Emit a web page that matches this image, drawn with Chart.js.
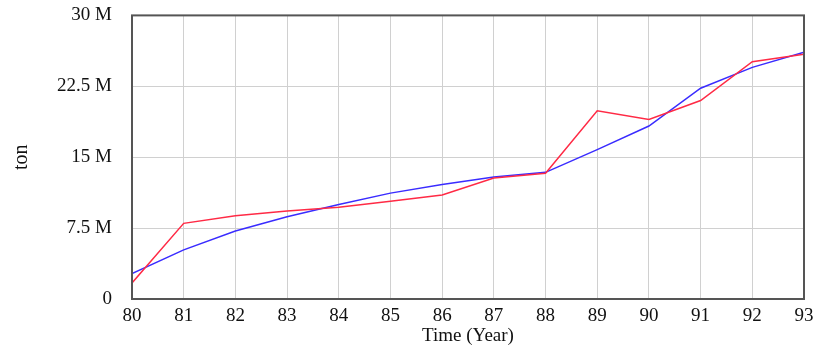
<!DOCTYPE html>
<html>
<head>
<meta charset="utf-8">
<script src="https://cdn.jsdelivr.net/npm/chart.js@4"></script>
<style>
  html, body { margin: 0; padding: 0; background: #fff; }
  #wrap { width: 816px; height: 345px; }
</style>
</head>
<body>
<div id="wrap"><canvas id="tonChart" width="816" height="345"></canvas></div>
<script>
// years on the x axis (80..93)
const years = [80, 81, 82, 83, 84, 85, 86, 87, 88, 89, 90, 91, 92, 93];
// actual (red) and simulated (blue), in tons
const actualTon = [1.7e6, 8.0e6, 8.8e6, 9.3e6, 9.7e6, 10.35e6, 11.0e6, 12.8e6, 13.3e6, 19.9e6, 19.0e6, 21.0e6, 25.1e6, 25.9e6];
const simulatedTon = [2.7e6, 5.2e6, 7.2e6, 8.7e6, 10.0e6, 11.2e6, 12.1e6, 12.9e6, 13.4e6, 15.8e6, 18.3e6, 22.3e6, 24.5e6, 26.1e6];
const yTicks = [0, 7.5e6, 15e6, 22.5e6, 30e6];

const fontFamily = '"Liberation Serif", "DejaVu Serif", serif';

// draw the full frame around the plot
const frameBox = {
  id: 'frameBox',
  afterDraw(chart) {
    const { ctx, chartArea: a } = chart;
    ctx.save();
    ctx.strokeStyle = '#555';
    ctx.lineWidth = 2;
    ctx.strokeRect(a.left, a.top, a.right - a.left, a.bottom - a.top);
    ctx.restore();
  }
};

const ctx = document.getElementById('tonChart').getContext('2d');
new Chart(ctx, {
  type: 'line',
  data: {
    datasets: [
      {
        label: 'Actual',
        data: years.map((y, i) => ({ x: y, y: actualTon[i] })),
        borderColor: '#ff2a45',
        borderWidth: 1.5,
        pointRadius: 0,
        tension: 0
      },
      {
        label: 'Simulated',
        data: years.map((y, i) => ({ x: y, y: simulatedTon[i] })),
        borderColor: '#3a2cff',
        borderWidth: 1.5,
        pointRadius: 0,
        tension: 0
      }
    ]
  },
  options: {
    responsive: false,
    animation: false,
    layout: { padding: { top: 15, right: 12, left: 10, bottom: 0 } },
    plugins: { legend: { display: false }, tooltip: { enabled: false } },
    scales: {
      x: {
        type: 'linear',
        min: 80,
        max: 93,
        afterFit(scale) { scale.height = 46; },
        ticks: {
          stepSize: 1,
          padding: 1,
          color: '#111',
          font: { family: fontFamily, size: 19 }
        },
        grid: { color: '#d0d0d0', lineWidth: 1, drawTicks: true, tickLength: 5, tickColor: 'rgba(0,0,0,0)' },
        border: { display: false },
        title: {
          display: true,
          text: 'Time (Year)',
          color: '#111',
          font: { family: fontFamily, size: 19 },
          padding: { top: 0, bottom: -2 }
        }
      },
      y: {
        min: 0,
        max: 30e6,
        afterFit(scale) { scale.width = 122; },
        afterBuildTicks(scale) { scale.ticks = yTicks.map(v => ({ value: v })); },
        ticks: {
          padding: 4,
          color: '#111',
          font: { family: fontFamily, size: 19 },
          callback: v => v === 0 ? '0' : (v / 1e6) + ' M'
        },
        grid: { color: '#d0d0d0', lineWidth: 1, drawTicks: true, tickLength: 16, tickColor: 'rgba(0,0,0,0)' },
        border: { display: false },
        title: {
          display: true,
          text: 'ton',
          color: '#111',
          font: { family: fontFamily, size: 20 },
          padding: { top: 0, bottom: 0 }
        }
      }
    }
  },
  plugins: [frameBox]
});
</script>
</body>
</html>
